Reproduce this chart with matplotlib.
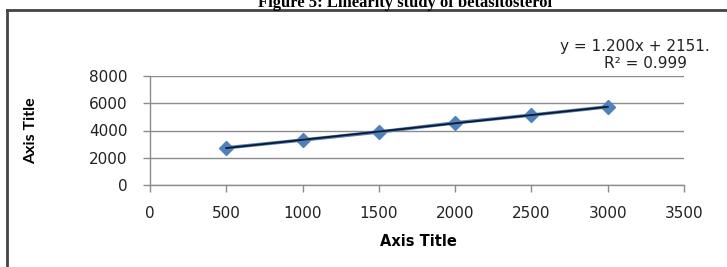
import numpy as np
import matplotlib.pyplot as plt
from matplotlib.lines import Line2D

# data
conc = [500, 1000, 1500, 2000, 2500, 3000]
area = [2730, 3300, 3890, 4560, 5130, 5740]
x_ticks = [0, 500, 1000, 1500, 2000, 2500, 3000, 3500]
y_ticks = [0, 2000, 4000, 6000, 8000]
title = "Figure 5: Linearity study of betasitosterol"
eq_text = "y = 1.200x + 2151."
r2_text = "R² = 0.999"

W, H = 727, 267
fig = plt.figure(figsize=(W / 100, H / 100), dpi=100)
fig.patch.set_facecolor("white")

def fx(px):
    return px / W

def fy(py):
    return 1 - py / H

ax = fig.add_axes([fx(150), fy(185), fx(684) - fx(150), fy(76) - fy(185)])
ax.set_xlim(0, 3500)
ax.set_ylim(0, 8000)
ax.set_xticks(x_ticks)
ax.set_yticks(y_ticks)

for s in ["top", "right"]:
    ax.spines[s].set_visible(False)
for s in ["left", "bottom"]:
    ax.spines[s].set_color("#8c8c8c")
    ax.spines[s].set_linewidth(1)

ax.grid(axis="y", color="#8c8c8c", lw=1)
ax.set_axisbelow(True)
ax.tick_params(axis="both", colors="#8c8c8c", length=5, width=1,
               labelcolor="#222222", labelsize=11)
ax.tick_params(axis="x", pad=10)
ax.tick_params(axis="y", pad=11)

# series and linear trendline
ax.plot(conc, area, color="#4f81bd", lw=2.5, marker="D", ms=7.5,
        markerfacecolor="#4f81bd", markeredgecolor="#4f81bd", zorder=3)
slope, intercept = np.polyfit(conc, area, 1)
xt = np.array([conc[0], conc[-1]])
ax.plot(xt, slope * xt + intercept, color="#10182a", lw=1.3, zorder=4)

fig.text(fx(418), fy(241), "Axis Title", fontsize=10.5, fontweight="bold",
         ha="center", va="center")
fig.text(fx(31), fy(131), "Axis Title", rotation=90, fontsize=11.5,
         fontweight="bold", family="Lato", ha="center", va="center")

fig.text(fx(560), fy(46), eq_text, fontsize=11, color="#222222",
         ha="left", va="center")
fig.text(fx(687), fy(63), r2_text, fontsize=11, color="#222222",
         ha="right", va="center")

# clipped figure caption and the outer frame
fig.text(fx(405), fy(7), title, family="Liberation Serif", fontweight="bold",
         fontsize=12, ha="center", va="baseline")
fig.add_artist(Line2D([fx(7), 1], [fy(10), fy(10)], color="#444444", lw=2))
fig.add_artist(Line2D([fx(7), fx(7)], [fy(10), 0], color="#444444", lw=2))

fig.savefig("out.png", dpi=100)
